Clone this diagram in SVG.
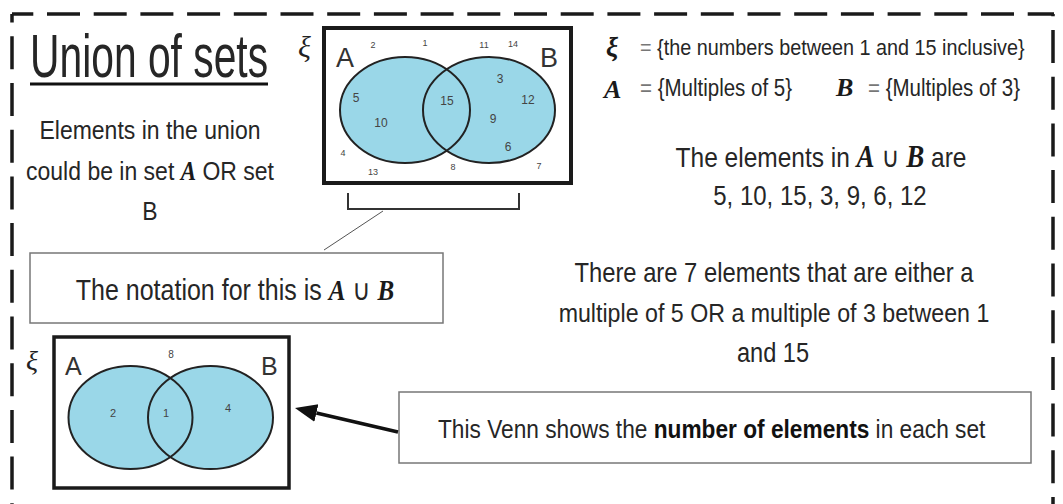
<svg xmlns="http://www.w3.org/2000/svg" width="1063" height="504" viewBox="0 0 1063 504">
<defs>
<style>
.hw{font-family:"Liberation Sans","DejaVu Sans",sans-serif;fill:#262626}
.c{text-anchor:middle}
.m{font-family:"Liberation Serif","DejaVu Serif",serif;font-style:italic;font-weight:bold;fill:#1a1a1a}
.cup{font-family:"DejaVu Sans",sans-serif;font-style:normal;font-weight:normal}
.lbl{font-family:"Liberation Sans","DejaVu Sans",sans-serif;fill:#333}
.num{font-family:"Liberation Sans","DejaVu Sans",sans-serif;fill:#444;text-anchor:middle}
.xi{font-family:"Liberation Serif","DejaVu Serif",serif;font-style:italic;fill:#222}
.frame{fill:#fff;stroke:#1a1a1a;stroke-width:4}
.set{fill:#9ad7e8;stroke:none}
.setl{fill:none;stroke:#222;stroke-width:2}
.box{fill:#fff;stroke:#777;stroke-width:1.5}
.dash{fill:none;stroke:#1a1a1a;stroke-width:3.5;stroke-dasharray:33 13.7}
.eq{fill:#777}
</style>
<marker id="ah" markerUnits="userSpaceOnUse" markerWidth="24" markerHeight="20" refX="0" refY="9" orient="auto">
<path d="M0,0 L22,9 L0,18 z" fill="#111"/>
</marker>
</defs>
<rect width="1063" height="504" fill="#fff"/>

<g id="border">
<line class="dash" x1="12" y1="14" x2="12" y2="520" stroke-dashoffset="24.4"/>
<line class="dash" x1="12" y1="14" x2="1054" y2="14" stroke-dashoffset="11.7"/>
<line class="dash" x1="1053" y1="14" x2="1053" y2="520" stroke-dashoffset="30.7"/>
</g>

<g id="title">
<text class="hw" x="30" y="77" font-size="40.8" transform="matrix(1 0 0 1.5 0 -38.5)">Union of sets</text>
<line x1="30" y1="84" x2="268" y2="84" stroke="#111" stroke-width="3"/>
</g>

<g id="union-note">
<text class="hw c" x="150" y="139" font-size="23" transform="matrix(1 0 0 1.15 0 -20.85)">Elements in the union</text>
<text class="hw c" x="150" y="180" font-size="23" transform="matrix(1 0 0 1.15 0 -27)">could be in set <tspan class="m">A</tspan> OR set</text>
<text class="hw c" x="150" y="220" font-size="23" transform="matrix(1 0 0 1.15 0 -33)">B</text>
</g>

<g id="venn-elements">
<text class="xi" x="298" y="57" font-size="30">ξ</text>
<rect class="frame" x="324" y="28" width="247" height="155"/>
<text class="lbl" x="336" y="67" font-size="27">A</text>
<text class="lbl" x="540" y="67" font-size="27">B</text>
<ellipse class="set" cx="405" cy="110" rx="65" ry="53"/>
<ellipse class="set" cx="489" cy="110" rx="66" ry="53"/>
<ellipse class="setl" cx="405" cy="110" rx="65" ry="53"/>
<ellipse class="setl" cx="489" cy="110" rx="66" ry="53"/>
<g font-size="9">
<text class="num" x="373" y="48">2</text>
<text class="num" x="425" y="46">1</text>
<text class="num" x="484" y="48">11</text>
<text class="num" x="513" y="47">14</text>
<text class="num" x="343" y="156">4</text>
<text class="num" x="373" y="175">13</text>
<text class="num" x="453" y="170">8</text>
<text class="num" x="539" y="169">7</text>
</g>
<g font-size="12">
<text class="num" x="356" y="102">5</text>
<text class="num" x="381" y="127">10</text>
<text class="num" x="447" y="105">15</text>
<text class="num" x="500" y="83">3</text>
<text class="num" x="528" y="104">12</text>
<text class="num" x="493" y="123">9</text>
<text class="num" x="508" y="151">6</text>
</g>
</g>

<g id="notation-box">
<rect class="box" x="30" y="253" width="413" height="70"/>
<text class="hw c" x="235" y="300" font-size="25" transform="matrix(1 0 0 1.15 0 -45)">The notation for this is <tspan class="m">A</tspan> <tspan class="cup">∪</tspan> <tspan class="m">B</tspan></text>
</g>

<g id="venn-counts">
<text class="xi" x="26" y="370" font-size="28">ξ</text>
<rect class="frame" x="54" y="337" width="235" height="151" style="stroke-width:3.5"/>
<text class="lbl" x="65" y="375" font-size="25">A</text>
<text class="lbl" x="261" y="375" font-size="25">B</text>
<ellipse class="set" cx="130.5" cy="417.5" rx="62" ry="51.5"/>
<ellipse class="set" cx="210.5" cy="417.5" rx="62.5" ry="51.5"/>
<ellipse class="setl" cx="130.5" cy="417.5" rx="62" ry="51.5"/>
<ellipse class="setl" cx="210.5" cy="417.5" rx="62.5" ry="51.5"/>
<text class="num" x="171" y="358" font-size="10">8</text>
<text class="num" x="113" y="417" font-size="11">2</text>
<text class="num" x="166" y="417" font-size="11">1</text>
<text class="num" x="228" y="412" font-size="11">4</text>
</g>

<g id="set-definitions">
<text class="m" x="606" y="56" font-size="27">ξ</text>
<text class="hw" x="640" y="55" font-size="19.8" transform="matrix(1 0 0 1.15 0 -8.25)"><tspan class="eq">=</tspan> {the numbers between 1 and 15 inclusive}</text>
<text class="m" x="604" y="98" font-size="26">A</text>
<text class="hw" x="640" y="96" font-size="20.5" transform="matrix(1 0 0 1.15 0 -14.4)"><tspan class="eq">=</tspan> {Multiples of 5}</text>
<text class="m" x="836" y="96" font-size="26">B</text>
<text class="hw" x="868" y="96" font-size="20.5" transform="matrix(1 0 0 1.15 0 -14.4)"><tspan class="eq">=</tspan> {Multiples of 3}</text>
</g>

<g id="union-elements">
<text class="hw c" x="821" y="167" font-size="24.5" transform="matrix(1 0 0 1.15 0 -25.05)">The elements in <tspan class="m" font-size="27">A</tspan> <tspan class="cup">∪</tspan> <tspan class="m" font-size="27">B</tspan> are</text>
<text class="hw c" x="820" y="205" font-size="24" transform="matrix(1 0 0 1.15 0 -30.75)">5, 10, 15, 3, 9, 6, 12</text>
</g>

<g id="count-note">
<text class="hw c" x="774" y="282" font-size="23.8" transform="matrix(1 0 0 1.15 0 -42.3)">There are 7 elements that are either a</text>
<text class="hw c" x="774" y="322" font-size="23.2" transform="matrix(1 0 0 1.15 0 -48.3)">multiple of 5 OR a multiple of 3 between 1</text>
<text class="hw c" x="773" y="362" font-size="23.6" transform="matrix(1 0 0 1.15 0 -54.3)">and 15</text>
</g>

<g id="venn-note-box">
<rect class="box" x="399" y="392" width="632" height="71"/>
<text class="hw" x="438" y="438" font-size="22.7" transform="matrix(1 0 0 1.15 0 -65.7)">This Venn shows the <tspan font-weight="bold" fill="#111">number of elements</tspan> in each set</text>
</g>

<g id="connectors">
<path d="M348,193 V209 H519 V193" fill="none" stroke="#333" stroke-width="2"/>
<line x1="383" y1="211" x2="324" y2="250" stroke="#555" stroke-width="1"/>
<line x1="398" y1="432" x2="316.4" y2="413" stroke="#111" stroke-width="3.5" marker-end="url(#ah)"/>
</g>
</svg>
